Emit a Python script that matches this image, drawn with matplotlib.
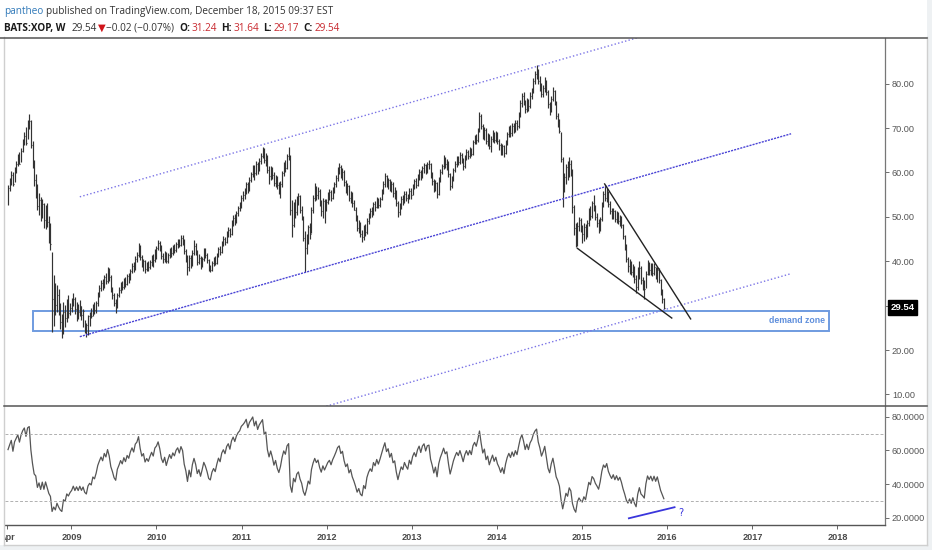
import numpy as np
import pandas as pd
import matplotlib
matplotlib.use("Agg")
import matplotlib.pyplot as plt
import matplotlib.dates as mdates
from matplotlib.patches import Rectangle
from matplotlib.lines import Line2D

# BATS:XOP weekly bars, 2008-04-04 .. 2015-12-18 (one row per calendar year)
close = [
    56.5, 58.0, 59.5, 57.4, 60.6, 62.0, 63.4, 62.0, 64.9, 66.9, 68.2, 66.6, 70.8, 71.5, 66.2, 62.1, 58.3, 57.5, 52.4, 53.8, 50.6, 52.9, 49.3, 51.7, 48.9, 45.6, 43.8, 31.5, 33.0, 30.2, 32.4, 29.1, 26.3, 24.8, 28.6, 27.3, 29.8, 28.4, 29.5,
    30.2, 31.5, 29.3, 30.4, 28.6, 29.8, 27.9, 28.8, 26.4, 25.6, 27.6, 28.3, 27.7, 29.7, 29.1, 30.5, 32.6, 33.9, 35.1, 34.2, 36.4, 35.6, 37.9, 36.5, 33.8, 32.4, 30.6, 29.8, 32.5, 33.6, 34.9, 34.1, 35.8, 34.9, 36.6, 36.0, 37.8, 39.0, 38.2, 40.6, 41.3, 43.2, 41.0, 39.4, 40.1, 38.3, 39.2, 38.6, 39.8, 40.9, 40.2, 42.3,
    42.9, 44.1, 43.0, 41.2, 40.4, 41.6, 40.0, 41.3, 42.5, 41.8, 43.1, 42.6, 43.9, 44.5, 43.7, 45.2, 44.6, 42.3, 41.0, 38.6, 40.8, 39.2, 41.9, 43.5, 42.2, 39.9, 40.8, 39.1, 40.6, 42.4, 41.5, 40.2, 38.4, 38.0, 39.6, 40.4, 39.7, 41.3, 42.7, 42.0, 44.1, 45.0, 44.3, 46.2, 47.0, 46.1, 48.5, 49.7, 49.0, 50.8, 51.9, 52.6, 54.3,
    55.0, 55.9, 57.3, 56.2, 58.4, 59.6, 61.0, 59.8, 61.9, 60.7, 62.6, 63.8, 65.1, 62.9, 63.7, 60.6, 59.1, 60.8, 59.5, 57.7, 58.9, 57.1, 56.0, 57.4, 59.8, 61.7, 61.0, 63.6, 64.4, 51.6, 48.2, 52.8, 51.1, 53.9, 54.7, 51.6, 49.6, 45.3, 43.0, 44.9, 47.6, 46.2, 51.5, 54.3, 56.4, 54.8, 55.9, 53.1, 51.2, 53.6, 52.0, 53.4,
    54.8, 55.6, 54.2, 56.0, 57.3, 58.8, 60.6, 61.3, 59.4, 60.2, 57.8, 56.1, 56.9, 54.3, 55.2, 53.0, 51.6, 49.8, 47.5, 48.3, 46.1, 45.4, 47.6, 46.5, 49.1, 50.4, 51.3, 50.6, 52.9, 52.1, 53.8, 52.7, 54.0, 55.6, 57.4, 59.1, 57.3, 58.2, 56.4, 57.5, 55.4, 55.9, 53.2, 51.0, 52.6, 54.1, 53.4, 55.2, 54.3, 53.6, 55.8, 54.9,
    56.9, 58.0, 57.2, 59.1, 60.2, 59.0, 60.9, 61.6, 60.3, 61.8, 62.0, 59.4, 58.1, 56.3, 57.6, 55.2, 58.3, 60.1, 61.4, 63.0, 61.8, 62.4, 59.7, 57.0, 58.6, 60.5, 61.9, 63.1, 62.4, 63.9, 62.8, 61.5, 63.4, 64.6, 63.7, 65.0, 64.2, 66.8, 67.9, 67.2, 69.4, 72.8, 70.5, 68.3, 69.6, 67.1, 68.2, 66.0, 67.5, 68.9, 67.4, 68.6,
    67.0, 66.1, 64.8, 65.9, 64.4, 66.8, 68.6, 69.8, 68.9, 70.5, 69.6, 71.2, 70.4, 72.9, 75.6, 77.2, 76.0, 74.3, 76.1, 75.0, 77.3, 78.4, 80.6, 82.1, 83.0, 80.6, 79.4, 77.6, 78.9, 80.7, 78.2, 75.4, 74.1, 76.6, 78.3, 75.9, 72.8, 71.5, 69.4, 63.0, 56.8, 58.9, 61.2, 59.5, 62.0, 60.4, 52.3, 47.5, 44.6, 47.9, 49.2, 47.3,
    46.2, 47.8, 45.9, 48.6, 51.4, 50.2, 53.0, 52.1, 50.0, 48.7, 47.2, 49.4, 52.8, 55.1, 54.2, 55.6, 52.9, 51.4, 50.2, 51.3, 49.5, 50.6, 49.0, 49.8, 48.1, 45.6, 43.4, 40.5, 38.9, 39.8, 37.6, 38.8, 36.0, 34.1, 36.9, 38.5, 35.7, 34.9, 33.8, 37.2, 39.4, 38.1, 39.0, 37.4, 38.6, 36.9, 38.0, 35.8, 33.2, 31.4, 29.54,
]
high = [
    57.2, 58.8, 60.4, 60.1, 61.2, 62.6, 64.1, 64.5, 65.4, 67.6, 69.0, 70.2, 71.9, 73.2, 71.8, 67.0, 62.8, 59.6, 57.3, 55.4, 54.5, 54.0, 53.1, 52.6, 53.0, 50.2, 48.5, 42.1, 36.9, 35.0, 34.6, 33.8, 30.5, 28.0, 30.9, 30.2, 31.5, 32.5, 30.6,
    31.6, 32.8, 32.0, 30.9, 30.4, 31.3, 30.0, 29.2, 26.8, 26.0, 27.9, 28.6, 29.5, 30.4, 30.8, 31.0, 33.1, 34.6, 35.7, 36.0, 37.0, 37.3, 38.8, 38.4, 37.0, 34.3, 32.8, 31.4, 32.8, 34.2, 35.3, 35.6, 36.3, 36.5, 37.1, 37.3, 38.2, 39.6, 39.8, 41.2, 42.0, 44.0, 43.6, 41.5, 40.6, 40.3, 39.9, 40.0, 40.3, 41.4, 41.6, 42.8,
    43.4, 44.8, 44.5, 43.6, 41.9, 42.3, 42.0, 41.8, 43.0, 43.2, 43.7, 43.9, 44.4, 45.1, 45.0, 45.9, 45.8, 44.9, 42.8, 41.3, 41.5, 41.4, 42.5, 44.8, 44.1, 42.6, 41.6, 41.2, 41.0, 43.0, 42.9, 41.9, 40.5, 39.1, 40.1, 41.0, 41.1, 41.8, 43.2, 43.4, 44.6, 45.7, 45.5, 46.8, 47.6, 47.5, 49.3, 50.4, 50.6, 51.4, 52.5, 53.4, 54.8,
    55.8, 56.4, 57.8, 57.9, 58.9, 60.2, 61.6, 61.7, 62.5, 62.4, 63.2, 64.3, 65.8, 65.4, 64.4, 63.9, 61.4, 61.5, 61.3, 60.0, 59.4, 59.3, 57.8, 58.0, 60.3, 62.3, 62.8, 64.2, 65.8, 63.9, 53.7, 53.4, 53.9, 54.6, 55.4, 54.9, 52.4, 50.2, 46.8, 46.1, 48.1, 48.6, 52.2, 55.0, 57.6, 56.9, 56.8, 56.2, 53.8, 54.2, 54.1, 53.9,
    55.6, 56.3, 56.1, 56.7, 57.9, 59.4, 61.2, 62.2, 61.6, 61.1, 60.5, 58.3, 57.6, 57.2, 55.9, 55.6, 53.7, 52.1, 50.3, 49.2, 48.9, 47.0, 48.2, 48.3, 49.8, 50.9, 52.0, 52.2, 53.4, 53.5, 54.5, 54.2, 54.5, 56.3, 58.0, 59.9, 59.5, 58.8, 58.5, 58.1, 57.8, 56.6, 56.0, 53.6, 53.2, 54.7, 55.0, 55.7, 55.9, 55.2, 56.4, 56.5,
    57.5, 58.6, 58.7, 59.6, 60.8, 60.6, 61.5, 62.2, 62.0, 62.4, 62.8, 62.1, 60.0, 58.6, 58.2, 57.9, 58.9, 60.7, 62.0, 63.9, 63.5, 63.1, 62.6, 59.9, 59.2, 61.0, 62.5, 63.7, 63.8, 64.5, 64.3, 63.2, 63.9, 65.2, 65.0, 65.7, 65.6, 67.4, 68.5, 68.6, 70.0, 73.7, 73.2, 71.0, 70.2, 69.9, 68.8, 68.6, 68.1, 69.5, 69.2, 69.3,
    69.2, 67.6, 66.7, 66.5, 66.2, 67.3, 69.1, 70.4, 70.6, 71.1, 71.2, 71.8, 71.7, 73.5, 76.2, 77.9, 78.0, 76.4, 76.8, 76.6, 78.0, 79.0, 81.3, 82.9, 84.2, 83.4, 81.6, 80.2, 79.6, 81.4, 80.9, 78.6, 75.9, 77.2, 79.2, 78.6, 76.1, 73.4, 72.0, 69.2, 63.5, 59.8, 61.9, 62.5, 63.5, 62.7, 60.8, 52.6, 48.6, 48.9, 50.0, 49.8,
    48.1, 48.6, 48.4, 49.2, 52.0, 52.4, 53.6, 54.9, 52.6, 50.8, 49.6, 50.0, 53.3, 55.7, 57.2, 56.4, 55.9, 53.5, 52.0, 51.9, 51.6, 51.2, 51.0, 50.4, 50.2, 48.3, 46.0, 43.8, 41.0, 40.6, 40.1, 39.4, 39.0, 36.9, 38.7, 40.0, 38.9, 36.4, 35.7, 37.8, 40.3, 39.9, 39.6, 39.7, 39.5, 38.8, 38.7, 38.4, 36.1, 33.8, 31.64,
]
low = [
    52.7, 55.8, 57.2, 57.0, 57.8, 59.9, 61.5, 61.9, 62.3, 64.5, 66.1, 66.2, 67.5, 69.8, 65.5, 61.0, 56.9, 54.2, 51.6, 50.3, 49.1, 49.8, 47.5, 47.2, 47.8, 44.1, 42.5, 24.0, 25.5, 27.8, 28.5, 27.9, 24.7, 22.7, 23.6, 25.2, 26.4, 27.1, 27.8,
    28.5, 29.9, 28.2, 26.5, 26.9, 27.6, 26.8, 25.2, 23.8, 23.0, 23.4, 25.4, 27.3, 27.6, 28.2, 28.4, 29.8, 32.0, 33.2, 33.6, 33.9, 34.8, 35.2, 35.6, 33.1, 31.5, 29.9, 28.3, 29.5, 32.0, 32.9, 33.5, 33.7, 34.3, 34.6, 35.1, 35.8, 37.3, 37.6, 38.0, 39.8, 40.9, 40.2, 38.6, 37.9, 37.3, 37.7, 37.8, 38.2, 38.9, 38.7, 39.9,
    40.6, 42.5, 42.2, 40.5, 39.6, 39.8, 39.5, 39.7, 40.8, 41.0, 41.4, 41.9, 42.1, 43.0, 43.1, 43.5, 43.6, 41.7, 39.8, 36.9, 37.8, 38.5, 38.9, 41.5, 41.4, 39.2, 39.4, 38.3, 38.6, 40.1, 40.8, 39.6, 37.9, 37.5, 37.8, 39.0, 39.1, 39.4, 40.9, 41.5, 41.8, 43.4, 43.7, 44.0, 45.5, 45.4, 46.0, 47.9, 48.2, 48.7, 50.1, 51.3, 52.0,
    53.6, 54.1, 55.2, 55.4, 55.9, 57.8, 58.9, 58.3, 59.5, 59.6, 60.3, 61.9, 63.2, 62.2, 61.5, 59.8, 57.5, 58.4, 58.6, 57.0, 56.7, 56.2, 55.1, 54.2, 56.6, 59.2, 60.1, 60.7, 62.9, 50.3, 45.4, 47.6, 49.8, 50.4, 52.6, 50.8, 49.3, 44.6, 37.6, 41.6, 43.8, 45.1, 46.3, 50.8, 53.5, 53.7, 53.9, 52.4, 50.1, 49.8, 48.5, 51.2,
    52.9, 53.8, 53.6, 53.9, 55.4, 56.7, 58.1, 59.7, 58.8, 58.2, 57.0, 55.3, 54.8, 53.6, 53.1, 52.2, 51.5, 49.0, 46.8, 46.4, 45.5, 44.3, 44.7, 45.6, 46.2, 48.3, 49.8, 50.0, 50.5, 51.2, 51.9, 52.0, 52.2, 53.7, 55.1, 56.8, 56.6, 56.2, 55.7, 55.6, 54.5, 54.1, 52.5, 50.0, 50.3, 51.8, 52.7, 53.0, 53.6, 53.0, 53.9, 54.1,
    54.8, 56.2, 56.5, 56.9, 58.3, 58.4, 58.7, 59.8, 59.6, 59.9, 60.7, 58.8, 57.1, 55.5, 55.9, 54.2, 55.0, 57.9, 59.6, 60.8, 61.1, 60.6, 59.0, 56.0, 56.4, 58.1, 60.0, 61.3, 61.7, 62.0, 62.1, 60.6, 61.0, 62.9, 63.0, 63.2, 63.6, 64.0, 66.3, 66.5, 66.9, 69.0, 69.7, 67.5, 67.4, 66.4, 65.9, 65.3, 64.6, 66.8, 66.6, 66.9,
    66.3, 65.0, 64.0, 63.9, 63.5, 64.1, 66.2, 67.9, 68.0, 68.3, 68.9, 69.0, 69.5, 70.1, 72.4, 74.8, 75.1, 73.4, 73.6, 73.9, 74.5, 76.6, 77.9, 79.8, 81.0, 79.9, 78.3, 76.9, 77.0, 78.2, 77.5, 74.6, 73.0, 73.7, 76.0, 75.2, 72.0, 70.3, 68.9, 62.4, 52.2, 55.6, 57.4, 58.3, 58.9, 59.3, 50.9, 45.9, 43.2, 43.4, 46.7, 46.5,
    44.0, 44.6, 45.1, 45.5, 47.9, 49.3, 49.8, 51.4, 49.2, 47.6, 46.3, 46.9, 49.1, 52.3, 53.6, 53.4, 52.1, 50.7, 49.5, 49.6, 48.8, 48.6, 48.3, 48.0, 47.5, 44.9, 42.5, 39.8, 37.6, 37.1, 36.8, 36.5, 35.2, 32.8, 33.5, 35.9, 34.8, 33.6, 31.5, 33.9, 36.8, 37.0, 36.9, 36.6, 36.8, 35.9, 35.4, 35.0, 32.5, 30.6, 29.17,
]
# weekly closes Jan-Mar 2008, only used as RSI look-back
prior_close = [52.4, 49.8, 47.0, 49.6, 51.2, 48.9, 51.8, 53.4, 55.6, 52.1, 53.9, 51.6, 53.8]

# drawings on the chart: (date, value)
channel_mid = [("2009-02-06", 23.0), ("2017-06-16", 68.7)]
channel_width = 31.5
wedge_upper = [("2015-04-08", 57.4), ("2016-04-11", 27.0)]
wedge_lower = [("2014-12-12", 42.9), ("2016-01-21", 27.2)]
zone_dates = ["2008-07-20", "2017-11-26"]
zone_prices = [24.35, 28.85]
rsi_div = [("2015-07-21", 19.6), ("2016-02-02", 26.2)]

price_ticks = [10, 20, 30, 40, 50, 60, 70, 80]
rsi_ticks = [20, 40, 60, 80]
year_ticks = [2009, 2010, 2011, 2012, 2013, 2014, 2015, 2016, 2017, 2018]

dates = pd.date_range(end="2015-12-18", periods=len(close), freq="W-FRI")
x = mdates.date2num(dates)

# RSI(14) on weekly closes
px_all = pd.Series(prior_close + close)
chg = px_all.diff().iloc[1:]
gain = chg.clip(lower=0).ewm(alpha=1 / 14).mean()
loss = (-chg).clip(lower=0).ewm(alpha=1 / 14).mean()
rsi = (100 - 100 / (1 + gain / loss)).to_numpy()[-len(close):]

W, H = 932, 550
def fx(p): return p / W
def fy(p): return 1 - p / H
def d(s): return mdates.date2num(pd.Timestamp(s))

fig = plt.figure(figsize=(9.32, 5.5), dpi=100)
fig.patch.set_facecolor("white")
ax = fig.add_axes([fx(5), fy(406), fx(885) - fx(5), fy(37.5) - fy(406)])
ax2 = fig.add_axes([fx(5), fy(525), fx(885) - fx(5), fy(406) - fy(525)], sharex=ax)

bar_col = "#333333"
ax.vlines(x, low, high, color=bar_col, lw=0.85)
ax.hlines(close, x, x + 3, color=bar_col, lw=0.8)

# parallel channel
cx = [d(channel_mid[0][0]), d(channel_mid[1][0])]
cy = np.array([channel_mid[0][1], channel_mid[1][1]])
ax.plot(cx, cy + channel_width, color="#7b74e6", lw=1.0, ls=(0, (1, 1.6)))
ax.plot(cx, cy, color="#4a44d6", lw=1.0, ls=(0, (1.5, 0.8)))
ax.plot(cx, cy - channel_width, color="#7b74e6", lw=1.0, ls=(0, (1, 1.6)))

# falling wedge
for seg in (wedge_upper, wedge_lower):
    ax.plot([d(seg[0][0]), d(seg[1][0])], [seg[0][1], seg[1][1]], color="#222", lw=1.0)

# demand zone
z0, z1 = d(zone_dates[0]), d(zone_dates[1])
ax.add_patch(Rectangle((z0, zone_prices[0]), z1 - z0, zone_prices[1] - zone_prices[0],
                       fill=False, ec="#6f9be0", lw=1.4))
ax.annotate("demand zone", xy=(z1, sum(zone_prices) / 2), xytext=(-3, 0),
            textcoords="offset points", ha="right", va="center",
            color="#5f8fdc", fontsize=6.3, fontweight="bold", family="Liberation Sans")

ax.set_ylim(20 + (350 - 406) / 4.44, 20 + (350 - 37.5) / 4.44)
ax.set_xlim(d("2008-03-22"), d("2018-07-24"))
ax.yaxis.tick_right()
ax.set_yticks(price_ticks)
ax.set_yticklabels([f"{v:.2f}" for v in price_ticks])
ax.tick_params(axis="y", labelsize=6.6, colors="#555", length=3, width=0.6, pad=2)
ax.tick_params(axis="x", bottom=False, labelbottom=False)
for lab in ax.get_yticklabels():
    lab.set_family("Liberation Sans")

ax.annotate(f"{close[-1]:.2f}", xy=(1, close[-1]), xycoords=("axes fraction", "data"),
            xytext=(4, 0), textcoords="offset points", ha="left", va="center",
            color="white", fontsize=6.8, fontweight="bold", family="Liberation Sans",
            bbox=dict(boxstyle="square,pad=0.3", fc="black", ec="black"),
            annotation_clip=False)

# RSI panel
ax2.plot(x, rsi, color="#555", lw=0.9)
for lvl in (70, 30):
    ax2.axhline(lvl, color="#b0b0b0", lw=0.7, ls=(0, (3, 2)))
ax2.plot([d(rsi_div[0][0]), d(rsi_div[1][0])], [rsi_div[0][1], rsi_div[1][1]],
         color="#3a36dc", lw=1.3)
ax2.text(d("2016-02-19"), 22.5, "?", color="#3a36dc", fontsize=7, va="center")
ax2.set_ylim(15.6, 86.5)
ax2.yaxis.tick_right()
ax2.set_yticks(rsi_ticks)
ax2.set_yticklabels([f"{v:.4f}" for v in rsi_ticks])
ax2.tick_params(axis="y", labelsize=6.6, colors="#555", length=3, width=0.6, pad=2)
xt = [d("2008-04-01")] + [d(f"{y}-01-01") for y in year_ticks]
ax2.set_xticks(xt)
ax2.set_xticklabels(["Apr"] + [str(y) for y in year_ticks])
ax2.tick_params(axis="x", labelsize=6.6, colors="#4a4a4a", length=3, width=0.6, pad=2.5)
for lab in ax2.get_xticklabels() + ax2.get_yticklabels():
    lab.set_family("Liberation Sans")
for lab in ax2.get_xticklabels():
    lab.set_fontweight("bold")

for a in (ax, ax2):
    a.set_facecolor("white")
    for s in ("top", "left", "bottom"):
        a.spines[s].set_visible(False)
    a.spines["right"].set_color("#777")
    a.spines["right"].set_linewidth(0.9)
ax2.spines["bottom"].set_visible(True)
ax2.spines["bottom"].set_color("#555")
ax2.spines["bottom"].set_linewidth(1.0)

# frame
fig.add_artist(Rectangle((0, 0), 1, fy(545), transform=fig.transFigure, fc="#eef1f3", ec="none", zorder=5))
fig.add_artist(Rectangle((fx(927), 0), 1, 1, transform=fig.transFigure, fc="#eef1f3", ec="none", zorder=5))
fig.add_artist(Rectangle((0, fy(545)), fx(4), fy(37) - fy(545), transform=fig.transFigure, fc="white", ec="none", zorder=5))
fig.add_artist(Line2D([fx(4), fx(4)], [fy(37), fy(545)], color="#cfcfcf", lw=1, zorder=6))
fig.add_artist(Line2D([fx(4), fx(927)], [fy(545), fy(545)], color="#cfcfcf", lw=1, zorder=6))
fig.add_artist(Line2D([fx(927), fx(927)], [fy(37), fy(545)], color="#cfcfcf", lw=1, zorder=6))
fig.add_artist(Line2D([0, fx(927)], [fy(37.5), fy(37.5)], color="#555", lw=1.1, zorder=6))
fig.add_artist(Line2D([fx(4), fx(927)], [fy(406), fy(406)], color="#555", lw=1.1, zorder=6))

# header
hdr_font = ["Open Sans", "DejaVu Sans"]
def text_run(parts, px, py, size=7.2):
    t = fig.text(fx(px), fy(py), parts[0][0], color=parts[0][1], fontweight=parts[0][2],
                 fontsize=size, family=hdr_font, va="bottom")
    for s, c, wgt, gap in parts[1:]:
        t = ax.annotate(s, xy=(1, 0), xycoords=t, xytext=(gap, 0), textcoords="offset points",
                        color=c, fontweight=wgt, fontsize=size, family=hdr_font,
                        ha="left", va="bottom", annotation_clip=False)

text_run([("pantheo", "#2f78b8", "normal"),
          ("published on TradingView.com, December 18, 2015 09:37 EST", "#333", "normal", 2.2)], 4, 17)
red = "#c8282e"
text_run([("BATS:XOP, W", "#1a1a1a", "bold"),
          ("29.54", "#333", "normal", 4.5),
          ("\u25bc", "#d0141a", "normal", 0.5),
          ("\u22120.02 (\u22120.07%)", "#333", "normal", 0.5),
          ("O:", "#1a1a1a", "bold", 3.5), ("31.24", red, "normal", 1.2),
          ("H:", "#1a1a1a", "bold", 3.0), ("31.64", red, "normal", 1.2),
          ("L:", "#1a1a1a", "bold", 3.0), ("29.17", red, "normal", 1.2),
          ("C:", "#1a1a1a", "bold", 3.0), ("29.54", red, "normal", 1.2)], 4, 34)

fig.savefig("out.png", dpi=100)
